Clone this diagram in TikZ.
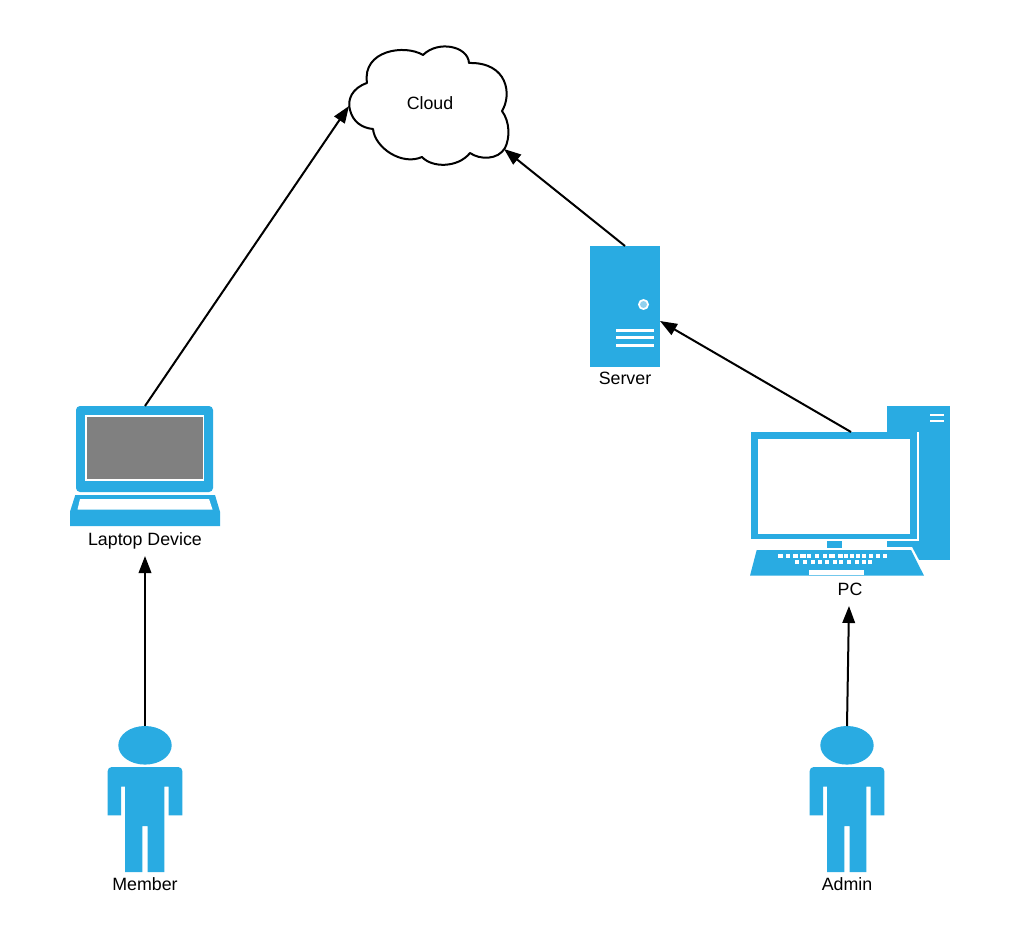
\documentclass[tikz,border=0pt]{standalone}
\usepackage{fontspec}
\setmainfont{Liberation Sans}
\usetikzlibrary{arrows.meta}
\definecolor{iconblue}{HTML}{29ABE2}
\definecolor{dotblue}{HTML}{8FD0EE}
\tikzset{
  iconbox/.style={draw=none,inner sep=0pt,outer sep=0pt},
  lbl/.style={font=\fontsize{17.8}{20}\selectfont,text=black,inner sep=0pt,anchor=base},
  link/.style={draw=black,line width=2pt,-{Triangle[length=17pt,width=12.5pt]}},
  person/.pic={
    \fill[iconblue] (0,-53.7) ellipse [x radius=26.7,y radius=19.3];
    \fill[iconblue] (-37.3,0) [rounded corners=4pt] -- (-37.3,-32) -- (37.3,-32) -- (37.3,0) [sharp corners] -- (37.3,16.3) -- (23.7,16.3) -- (23.7,-12.3) -- (19.3,-12.3) -- (19.3,73) -- (2.7,73) -- (2.7,27) -- (-2.7,27) -- (-2.7,73) -- (-20,73) -- (-20,-12.3) -- (-24,-12.3) -- (-24,16.3) -- (-37.3,16.3) -- cycle;
  }
}
\begin{document}
\begin{tikzpicture}[x=1pt,y=-1pt]
\useasboundingbox (0,0) rectangle (1020,941);
\fill[white] (0,0) rectangle (1020,941);

% named boxes
\node[iconbox,minimum width=160pt,minimum height=120pt] (cloud) at (429,106) {};
\node[iconbox,minimum width=70pt,minimum height=121pt] (server) at (625,306.5) {};
\node[iconbox,minimum width=150pt,minimum height=120pt] (laptop) at (145,466) {};
\node[iconbox,minimum width=200pt,minimum height=144pt] (pc) at (850,504) {};
\node[iconbox,minimum width=75pt,minimum height=146pt] (member) at (145,799) {};
\node[iconbox,minimum width=75pt,minimum height=146pt] (admin) at (847,799) {};

% cloud
\draw[black,line width=2pt,fill=white,line join=round]
  (367,83) .. controls (352,88) and (347,100) .. (350,110)
  .. controls (353,122) and (362,128) .. (373,129)
  .. controls (375,148) and (402,166) .. (422,157)
  .. controls (432,168) and (458,168) .. (470,153)
  .. controls (480,160) and (498,160) .. (505,148)
  .. controls (510,138) and (510,122) .. (502,111)
  .. controls (512,95) and (508,62) .. (469,63)
  .. controls (468,46) and (438,40) .. (423,55)
  .. controls (405,44) and (362,50) .. (367,83) -- cycle;
\node[lbl] (cloudlabel) at (430,109.3) {Cloud};

% server
\fill[iconblue] (590,246) rectangle (660,367);
\fill[white] (643.5,304.5) circle (5.5);
\fill[dotblue] (643.5,304.5) circle (3.5);
\foreach \yy in {330.7,337.5,345.3}
  \fill[white] (615.5,\yy-1.2) rectangle (653.5,\yy+1.2);
\node[lbl] (serverlabel) at (625,384) {Server};

% laptop
\fill[iconblue,rounded corners=4pt] (76,406) rectangle (213,492);
\fill[white] (85,415) rectangle (204,481);
\fill[gray] (86.5,417) rectangle (202.5,479);
\fill[iconblue] (75.3,495) -- (215,495) -- (220,511.7) -- (220,526) -- (70,526) -- (70,511.7) -- cycle;
\fill[white] (80,499) -- (209,499) -- (212.5,509.5) -- (77.5,509.5) -- cycle;
\node[lbl] (laptoplabel) at (145,545) {Laptop Device};

% pc
\fill[iconblue] (887,406) rectangle (950,560);
\fill[white] (930,413.5) rectangle (944,416);
\fill[white] (930,420) rectangle (944,422.3);
\fill[white] (887,432) rectangle (919,541);
\fill[white] (749,539) rectangle (919,541);
\fill[iconblue] (751,432) rectangle (916.7,539);
\fill[white] (757.7,438.7) rectangle (910.3,534.3);
\fill[white] (755,547) -- (912,547) -- (928,577) -- (748,577) -- cycle;
\fill[white] (826,541) rectangle (843,548);
\fill[iconblue] (827,540.5) rectangle (842,548);
\fill[iconblue] (756.7,550) -- (911,550) -- (924,575.7) -- (750,575.7) -- cycle;
\foreach \xa/\xb in {113/130,138/150,160/175,180/197,202/213,225/237,249/261,268/285,294/310,312/325,330/343,348/360,367/379,387/399,407/419,430/441}
  \fill[white] (740+\xa/3,554) rectangle (740+\xb/3,557.7);
\foreach \xa/\xb in {165/177,189/201,212/224,233/247,255/267,279/291,298/310,321/333,345/357,365/377,384/397}
  \fill[white] (740+\xa/3,560) rectangle (740+\xb/3,564);
\fill[white] (809,570) rectangle (864,575);
\node[lbl] (pclabel) at (850,595) {PC};

% people
\pic at (145,799) {person};
\node[lbl] (memberlabel) at (145,890) {Member};
\pic at (847,799) {person};
\node[lbl] (adminlabel) at (847,890) {Admin};

% ports
\coordinate (cloudport) at (504,149);
\coordinate (serverport) at (660,321);
\coordinate (pcport) at (851,432);
\coordinate (laptopin) at (145,556);
\coordinate (pcin) at (849,606);

% connectors
\draw[link] (laptop.north) -- (cloud.west);
\draw[link] (server.north) -- (cloudport);
\draw[link] (pcport) -- (serverport);
\draw[link] (member.north) -- (laptopin);
\draw[link] (admin.north) -- (pcin);
\end{tikzpicture}
\end{document}
